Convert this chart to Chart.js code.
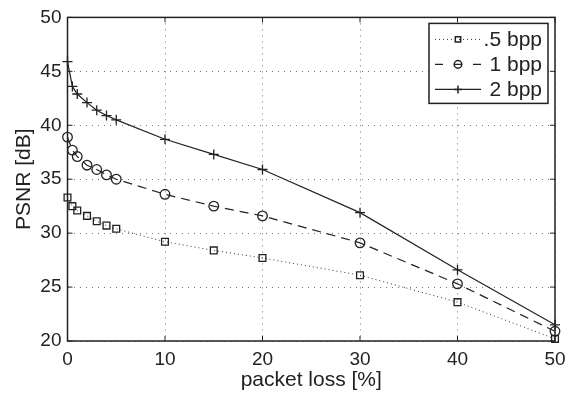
<!DOCTYPE html>
<html>
<head>
<meta charset="utf-8">
<script src="https://cdn.jsdelivr.net/npm/chart.js@4"></script>
<style>
  html, body { margin: 0; padding: 0; background: #fff; }
  #wrap { width: 575px; height: 396px; }
</style>
</head>
<body>
<div id="wrap"><canvas id="grafica" width="575" height="396"></canvas></div>
<script>
// datos
const packetLoss = [0, 0.5, 1, 2, 3, 4, 5, 10, 15, 20, 30, 40, 50];
const psnr05 = [33.3, 32.5, 32.1, 31.6, 31.1, 30.7, 30.4, 29.2, 28.4, 27.7, 26.1, 23.6, 20.2];
const psnr1 = [38.9, 37.7, 37.1, 36.3, 35.9, 35.4, 35.0, 33.6, 32.5, 31.6, 29.1, 25.3, 20.9];
const psnr2 = [45.9, 43.6, 42.9, 42.1, 41.4, 40.9, 40.5, 38.7, 37.3, 35.9, 31.9, 26.6, 21.5];
const seriesLabels = ['.5 bpp', '1 bpp', '2 bpp'];
const xTicks = [0, 10, 20, 30, 40, 50];
const yTicks = [20, 25, 30, 35, 40, 45, 50];

const fuente = 'Liberation Sans, Arial, Helvetica, sans-serif';
const negro = '#222';

function puntos(valores) {
    return packetLoss.map((x, i) => ({ x: x, y: valores[i] }));
}

// caja, ticks hacia dentro y leyenda al estilo matlab
const estiloMatlab = {
    id: 'estiloMatlab',
    beforeDatasetsDraw(chart) {
        const { ctx, chartArea: a, scales } = chart;
        ctx.save();
        ctx.strokeStyle = negro;
        ctx.lineWidth = 1.5;
        ctx.strokeRect(a.left, a.top, a.right - a.left, a.bottom - a.top);
        ctx.lineWidth = 1;
        ctx.beginPath();
        xTicks.forEach(v => {
            const px = scales.x.getPixelForValue(v);
            ctx.moveTo(px, a.bottom); ctx.lineTo(px, a.bottom - 5);
            ctx.moveTo(px, a.top); ctx.lineTo(px, a.top + 5);
        });
        yTicks.forEach(v => {
            const py = scales.y.getPixelForValue(v);
            ctx.moveTo(a.left, py); ctx.lineTo(a.left + 5, py);
            ctx.moveTo(a.right, py); ctx.lineTo(a.right - 5, py);
        });
        ctx.stroke();
        ctx.restore();
    },
    afterDatasetsDraw(chart) {
        const { ctx, chartArea: a } = chart;
        ctx.save();
        // leyenda
        const bx = a.right - 126, by = a.top + 6, bw = 119, bh = 80;
        ctx.fillStyle = '#fff';
        ctx.fillRect(bx, by, bw, bh);
        ctx.strokeStyle = negro;
        ctx.lineWidth = 1.5;
        ctx.strokeRect(bx, by, bw, bh);
        ctx.font = '21px ' + fuente;
        ctx.textBaseline = 'middle';
        chart.data.datasets.forEach((ds, i) => {
            const cy = by + 16 + i * 25;
            ctx.save();
            ctx.strokeStyle = ds.borderColor;
            ctx.lineWidth = ds.borderWidth;
            ctx.setLineDash(ds.borderDash || []);
            ctx.beginPath();
            if (i === 1) {
                ctx.moveTo(bx + 6, cy); ctx.lineTo(bx + 14, cy);
                ctx.moveTo(bx + 44, cy); ctx.lineTo(bx + 52, cy);
                ctx.moveTo(bx + 25, cy); ctx.lineTo(bx + 33, cy);
            } else {
                ctx.moveTo(bx + 6, cy); ctx.lineTo(bx + 52, cy);
            }
            ctx.stroke();
            ctx.restore();
            ctx.fillStyle = 'rgba(0,0,0,0)';
            ctx.strokeStyle = negro;
            Chart.helpers.drawPoint(ctx, {
                pointStyle: ds.pointStyle, radius: ds.pointRadius - 1, rotation: 0, borderWidth: 1.2
            }, bx + 29, cy);
            ctx.fillStyle = negro;
            ctx.textAlign = 'right';
            ctx.fillText(ds.label, bx + bw - 6, cy + 1);
        });
        ctx.restore();
    }
};

new Chart(document.getElementById('grafica').getContext('2d'), {
    type: 'line',
    data: {
        datasets: [
            {
                label: seriesLabels[0],
                data: puntos(psnr05),
                borderColor: '#333',
                borderWidth: 1,
                borderDash: [1, 3],
                pointStyle: 'rect',
                pointRadius: 4.8,
                pointBorderColor: negro,
                pointBackgroundColor: 'rgba(0,0,0,0)',
                pointBorderWidth: 1.3,
                clip: false
            },
            {
                label: seriesLabels[1],
                data: puntos(psnr1),
                borderColor: negro,
                borderWidth: 1.2,
                borderDash: [9, 6],
                pointStyle: 'circle',
                pointRadius: 4.8,
                pointBorderColor: negro,
                pointBackgroundColor: 'rgba(0,0,0,0)',
                pointBorderWidth: 1.3,
                clip: false
            },
            {
                label: seriesLabels[2],
                data: puntos(psnr2),
                borderColor: negro,
                borderWidth: 1.2,
                pointStyle: 'cross',
                pointRadius: 5,
                pointBorderColor: negro,
                pointBorderWidth: 1.3,
                clip: false
            }
        ]
    },
    options: {
        responsive: false,
        animation: false,
        layout: { padding: { left: 0, right: 20, top: 11, bottom: 0 } },
        plugins: {
            legend: { display: false },
            tooltip: { enabled: false }
        },
        scales: {
            x: {
                type: 'linear',
                min: 0,
                max: 50,
                afterFit: s => { s.height = 55; },
                afterBuildTicks: s => { s.ticks = xTicks.map(v => ({ value: v })); },
                border: { display: false, dash: [1, 5] },
                grid: { color: '#777', lineWidth: 1, drawTicks: false },
                ticks: { color: negro, padding: 7, font: { family: fuente, size: 19 } },
                title: { display: true, text: 'packet loss [%]', color: negro, padding: { top: 0, bottom: 3 }, font: { family: fuente, size: 21 } }
            },
            y: {
                min: 20,
                max: 50,
                afterFit: s => { s.width = 67.5; },
                afterBuildTicks: s => { s.ticks = yTicks.map(v => ({ value: v })); },
                border: { display: false, dash: [1, 5] },
                grid: { color: '#777', lineWidth: 1, drawTicks: false },
                ticks: { color: negro, padding: 6, font: { family: fuente, size: 19 } },
                title: { display: true, text: 'PSNR [dB]', color: negro, padding: { top: 12, bottom: 0 }, font: { family: fuente, size: 21 } }
            }
        }
    },
    plugins: [estiloMatlab]
});
</script>
</body>
</html>
